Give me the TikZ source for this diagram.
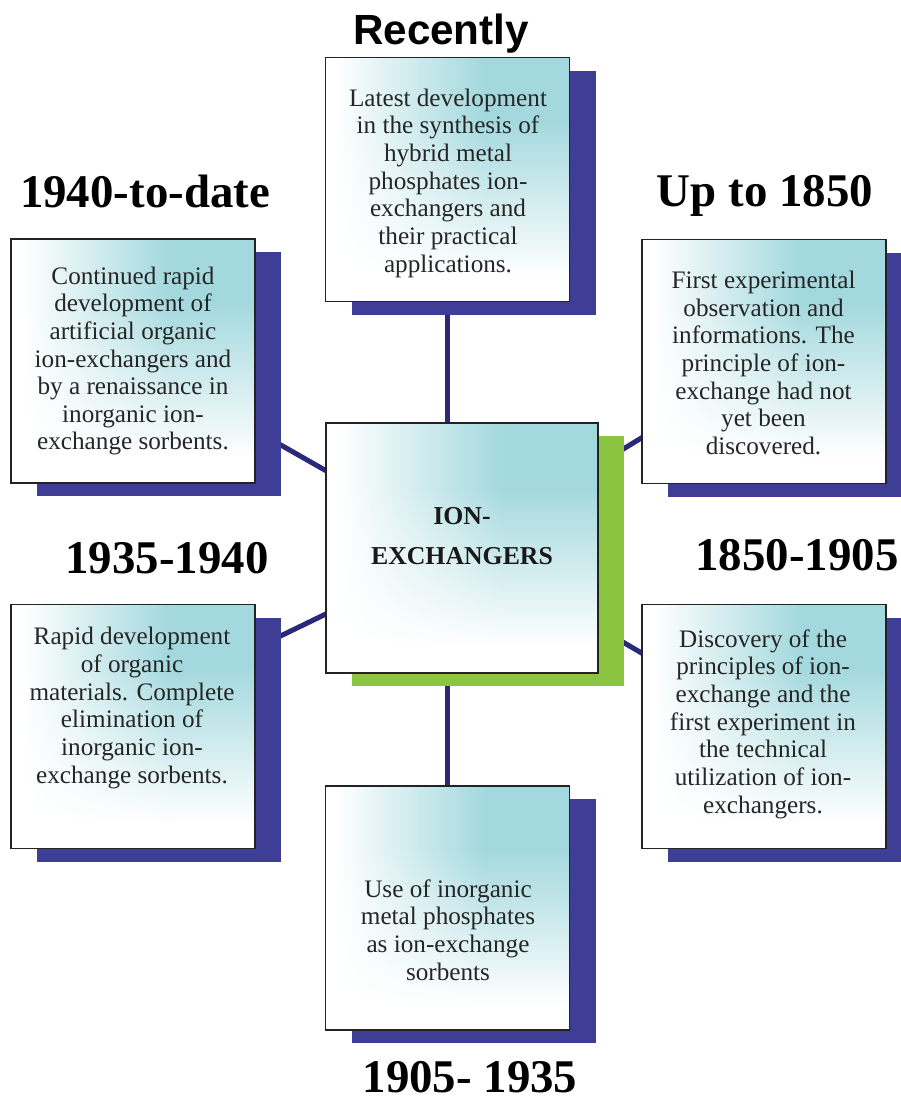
\documentclass[tikz,border=0pt]{standalone}
\usepackage{fontspec}
\setmainfont{Liberation Serif}
\setsansfont{Liberation Sans}
\usetikzlibrary{shadows,%
                backgrounds}
\definecolor{shadowblue}{RGB}{62,62,150}
\definecolor{linkblue}{RGB}{42,40,120}
\definecolor{hubgreen}{RGB}{139,197,63}
\definecolor{edgegray}{RGB}{35,35,35}
\pgfdeclarefunctionalshading{cardshade}{\pgfpoint{0bp}{0bp}}{\pgfpoint{100bp}{100bp}}{}{
30 sub 32 div dup 0 lt {pop 0} if dup 1 gt {pop 1} if
exch 27.5 sub 30 div dup 0 lt {pop 0} if dup 1 gt {pop 1} if
mul dup dup 0.13 mul 1 exch sub
exch 0.15 mul 1 exch sub exch
3 -1 roll 0.36 mul 1 exch sub 3 1 roll
}
\tikzset{
  card/.style={draw=edgegray, line width=1.3pt, shading=cardshade,
    minimum width=7.32cm, minimum height=7.32cm, inner sep=0pt,
    drop shadow={shadow xshift=0.78cm, shadow yshift=-0.4cm,
                 fill=shadowblue, opacity=1}},
  hub/.style={draw=edgegray, line width=1.3pt, shading=cardshade,
    minimum width=8.16cm, minimum height=7.5cm, inner sep=0pt,
    drop shadow={shadow xshift=0.78cm, shadow yshift=-0.4cm,
                 fill=hubgreen, opacity=1}},
  cardtext/.style={align=center, text=black!85, inner sep=0pt,
    font=\fontsize{21.5}{23.6}\selectfont},
  era/.style={anchor=base, inner sep=0pt,
    font=\fontsize{40}{44}\selectfont\bfseries},
  link/.style={linkblue, line width=4.3pt}
}
\begin{document}
\begin{tikzpicture}[x=0.03cm, y=-0.03cm]
\useasboundingbox (0,0) rectangle (900,1104);

\node[hub] (Hub) at (462,548) {};
\node[align=center, inner sep=0pt, text=black!90,
      font=\fontsize{22}{34}\selectfont\bfseries] (HubT) at (462,536) {ION-\\EXCHANGERS};

\node[card] (Recent) at (447.5,179.5) {};
\node[cardtext] (RecentT) at (448,183) {Latest development\\in the synthesis of\\hybrid metal\\phosphates ion-\\exchangers and\\their practical\\applications.};
\node[era, font=\fontsize{36}{40}\selectfont\sffamily\bfseries] (RecentH) at (441,45) {Recently};

\node[card] (Y1940) at (133,361) {};
\node[cardtext] (Y1940T) at (133,361) {Continued rapid\\development of\\artificial organic\\ion-exchangers and\\by a renaissance in\\inorganic ion-\\exchange sorbents.};
\node[era] (Y1940H) at (145,208) {1940-to-date};

\node[card] (Upto) at (764,361.5) {};
\node[cardtext] (UptoT) at (763.5,363) {First experimental\\observation and\\informations. The\\principle of ion-\\exchange had not\\yet been\\discovered.};
\node[era] (UptoH) at (765,207) {Up to 1850};

\node[card] (Y1935) at (133,726.5) {};
\node[cardtext] (Y1935T) at (132,708) {Rapid development\\of organic\\materials. Complete\\elimination of\\inorganic ion-\\exchange sorbents.};
\node[era] (Y1935H) at (167,573) {1935-1940};

\node[card] (Y1850) at (764,726.5) {};
\node[cardtext] (Y1850T) at (763,724) {Discovery of the\\principles of ion-\\exchange and the\\first experiment in\\the technical\\utilization of ion-\\exchangers.};
\node[era] (Y1850H) at (797,570) {1850-1905};

\node[card] (Y1905) at (447.5,908) {};
\node[cardtext] (Y1905T) at (448,930) {Use of inorganic\\metal phosphates\\as ion-exchange\\sorbents};
\node[era] (Y1905H) at (470,1092) {1905- 1935};

\begin{scope}[on background layer]
\draw[link] (Recent.center) -- (Recent.center |- Hub.center);
\draw[link] (Y1905.center) -- (Y1905.center |- Hub.center);
\draw[link] (Hub.center) -- (Y1940T.center);
\draw[link] (Hub.center) -- (Y1935T.center);
\draw[link] (Hub.center) -- (UptoT.center);
\draw[link] (Hub.center) -- (Y1850T.center);
\end{scope}

\end{tikzpicture}
\end{document}
